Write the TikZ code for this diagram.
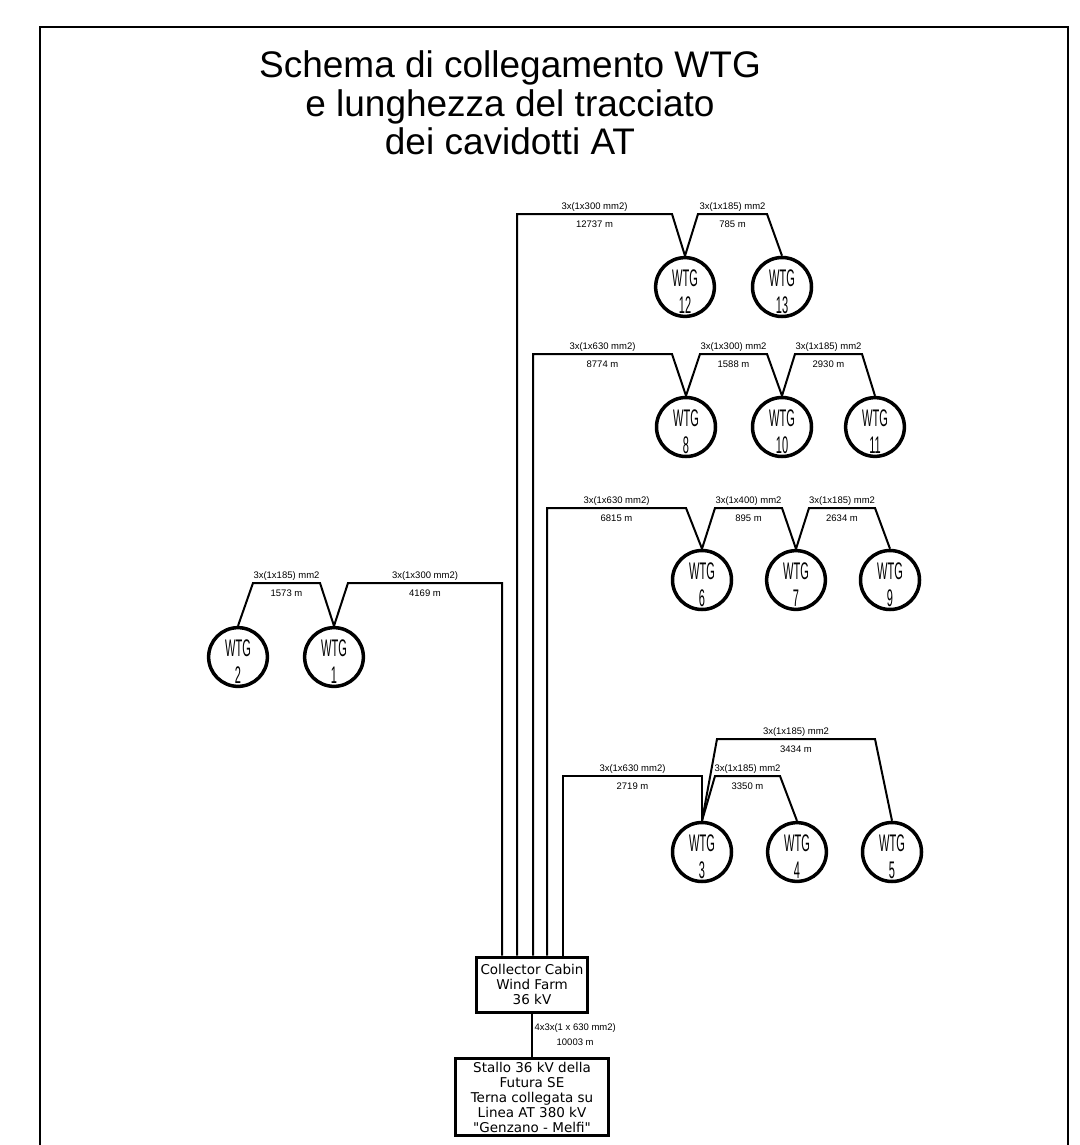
\documentclass[tikz,border=0pt]{standalone}
\usepackage{fontspec}
\setmainfont{Liberation Sans}
\newfontfamily\wtgfont[FakeStretch=0.46]{Liberation Sans}
\newfontfamily\boxfont{DejaVu Sans}
\tikzset{
  wtg/.style={circle, draw, line width=3.5pt, minimum size=54pt, inner sep=0pt,
    align=center, font=\wtgfont\fontsize{24}{27}\selectfont},
  cavo/.style={line width=2pt},
  sez/.style={font=\fontsize{9.5}{15}\selectfont, inner sep=1.5pt,
    text height=7pt, text depth=2pt},
  sopra/.style={sez, above},
  sotto/.style={sez, below=4pt},
  cabina/.style={draw, line width=3pt, align=center, inner sep=0pt,
    font=\boxfont\fontsize{13.5}{15.2}\selectfont},
  titolo/.style={align=center, font=\fontsize{37}{38.5}\selectfont}
}
\begin{document}
\begin{tikzpicture}[x=1pt,y=-1pt]
  \useasboundingbox (0,0) rectangle (1079,1145);
  % Cornice e titolo
  \draw [line width=1.3pt] (40,1145) -- (40,27) -- (1068,27) -- (1068,1145);
  \node [titolo] (titolo) at (510,103) {Schema di collegamento WTG\\e lunghezza del tracciato\\dei cavidotti AT};
  % Cabine
  \node [cabina, minimum width=111pt, minimum height=55pt] (cc) at (532,984.5) {Collector Cabin\\Wind Farm\\36 kV};
  \node [cabina, minimum width=153pt, minimum height=77pt] (se) at (532,1096.5) {\rule{0pt}{12pt}Stallo 36 kV della\\Futura SE\\Terna collegata su\\Linea AT 380 kV\\"Genzano - Melfi"};
  \draw [cavo] (cc.south) -- node [sez, right, align=center, text height=, text depth=] (s0) {4x3x(1 x 630 mm2)\\10003 m} (se.north);
  % Aerogeneratori
  \foreach \n/\x/\y in {12/685/287, 13/782/287, 8/686/427, 10/782/427, 11/875/427,
                        6/702/580, 7/796/580, 9/890/580, 2/238/657, 1/334/657,
                        3/702/852, 4/797/852, 5/892/852}
    \node [wtg] (w\n) at (\x,\y) {\rule{0pt}{26pt}WTG\\\n};
  % Dorsali verso la cabina
  \foreach \n/\xa/\xb/\y/\s/\l in {1/348/502/583/3x(1x300 mm2)/4169 m,
                                   12/672/517/214/3x(1x300 mm2)/12737 m,
                                   8/672/533/354/3x(1x630 mm2)/8774 m,
                                   6/686/547/508/3x(1x630 mm2)/6815 m,
                                   3/702/563/776/3x(1x630 mm2)/2719 m}
  {
    \coordinate (d\n) at (\xb,\y);
    \draw [cavo] (w\n.north) -- (\xa,\y) -- node [sopra] (s\n) {\s} node [sotto] (l\n) {\l} (d\n) -- (d\n |- cc.north);
  }
  % Collegamenti tra WTG
  \foreach \a/\b/\xa/\xb/\y/\s/\l in {12/13/698/767/214/3x(1x185) mm2/785 m,
                                      8/10/700/767/354/3x(1x300) mm2/1588 m,
                                      10/11/795/862/354/3x(1x185) mm2/2930 m,
                                      6/7/715/782/508/3x(1x400) mm2/895 m,
                                      7/9/809/875/508/3x(1x185) mm2/2634 m,
                                      2/1/253/320/583/3x(1x185) mm2/1573 m,
                                      3/4/715/780/776/3x(1x185) mm2/3350 m,
                                      3/5/717/875/739/3x(1x185) mm2/3434 m}
    \draw [cavo] (w\a.north) -- (\xa,\y) -- node [sopra] (s\a\b) {\s} node [sotto] (l\a\b) {\l} (\xb,\y) -- (w\b.north);
\end{tikzpicture}
\end{document}
